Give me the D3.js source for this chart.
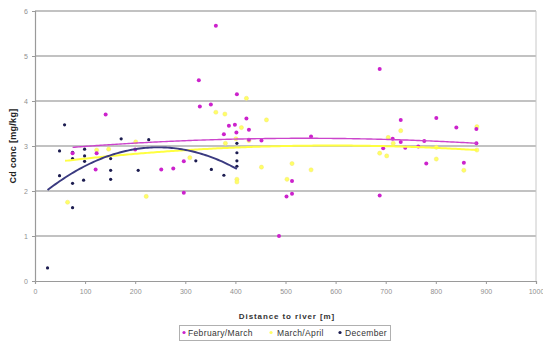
<!DOCTYPE html>
<html>
<head>
<meta charset="utf-8">
<script src="https://cdn.jsdelivr.net/npm/d3@7"></script>
<style>
  html, body { margin: 0; padding: 0; background: #ffffff; }
  svg { display: block; font-family: Arial, "Liberation Sans", sans-serif; }
</style>
</head>
<body>
<svg id="chart" width="543" height="342"></svg>
<script>
// Cd concentration [mg/kg] versus distance to the river [m], three sampling campaigns
const febMarch = [
  [75,2.84],[123,2.84],[121,2.48],[141,3.70],[200,2.92],[252,2.48],[276,2.50],[297,2.66],
  [297,1.96],[327,4.46],[329,3.88],[351,3.92],[361,5.67],[377,3.26],[387,3.45],[399,3.47],
  [403,4.15],[402,3.30],[422,3.61],[427,3.36],[427,3.14],[452,3.12],[487,1.00],[502,1.88],
  [513,1.94],[513,2.22],[551,3.21],[688,4.71],[688,1.90],[695,2.95],[714,3.16],[730,3.58],
  [730,3.09],[739,2.96],[765,2.99],[777,3.11],[781,2.61],[801,3.62],[841,3.41],[856,2.63],
  [881,3.38],[881,3.06]
];
const marchApril = [
  [65,1.75],[123,2.91],[147,2.93],[201,3.09],[222,1.88],[309,2.74],[361,3.75],[379,3.71],
  [380,3.06],[401,3.16],[403,2.26],[403,2.20],[412,3.41],[422,4.06],[427,3.12],[452,2.53],
  [462,3.58],[503,2.26],[513,2.61],[551,2.47],[688,2.84],[702,2.78],[705,3.19],[715,3.06],
  [730,3.34],[801,2.97],[801,2.71],[856,2.46],[882,3.43],[882,2.91]
];
const december = [
  [25,0.29],[49,2.89],[49,2.34],[59,3.47],[75,2.86],[75,2.72],[75,2.17],[75,1.63],
  [97,2.24],[99,2.93],[99,2.78],[99,2.66],[151,2.72],[151,2.46],[151,2.26],[172,3.16],
  [206,2.46],[227,3.14],[321,2.67],[352,2.48],[377,2.35],[403,3.06],[403,2.85],[403,2.67],
  [403,2.55]
];

// 2nd-order polynomial trendlines: [c0, c1, c2] and the distance range they span
const trendFebMarch   = { coef: [2.8995, 1.011e-3, -9.4e-7],   from: 75, to: 882 };
const trendMarchApril = { coef: [2.589, 1.4214e-3, -1.199e-6], from: 60, to: 882 };
const trendDecember   = { coef: [1.793, 9.576e-3, -1.947e-5],  from: 25, to: 403 };

const xTicks = [0,100,200,300,400,500,600,700,800,900,1000];
const yTicks = [0,1,2,3,4,5,6];
const seriesNames = ["February/March", "March/April", "December"];

const colors = {
  feb: "#cc22cc",
  mar: "#ffff66",
  dec: "#1c1c50",
  trendFeb: "#cc44cc",
  trendMar: "#ffff40",
  trendDec: "#3a3a80"
};

const svg = d3.select("#chart");
const x = d3.scaleLinear().domain([0, 1000]).range([35, 536]);
const y = d3.scaleLinear().domain([0, 6]).range([281, 11]);

// horizontal gridlines
svg.append("g")
  .selectAll("line")
  .data(yTicks.filter(d => d > 0))
  .join("line")
  .attr("x1", x(0)).attr("x2", x(1000))
  .attr("y1", d => y(d)).attr("y2", d => y(d))
  .attr("stroke", "#c2c2c2")
  .attr("stroke-width", 2);

// right border of the plot area
svg.append("line")
  .attr("x1", x(1000)).attr("x2", x(1000))
  .attr("y1", y(6)).attr("y2", y(0))
  .attr("stroke", "#c8c8c8").attr("stroke-width", 1);

// axes
const yAxis = svg.append("g")
  .attr("transform", `translate(${x(0)},0)`)
  .call(d3.axisLeft(y).tickValues(yTicks).tickFormat(d3.format("d")).tickSize(3).tickPadding(4));
const xAxis = svg.append("g")
  .attr("transform", `translate(0,${y(0)})`)
  .call(d3.axisBottom(x).tickValues(xTicks).tickFormat(d3.format("d")).tickSize(3).tickPadding(5));
[yAxis, xAxis].forEach(g => {
  g.select(".domain").attr("stroke", "#9a9a9a").attr("stroke-width", 1.2);
  g.selectAll(".tick line").attr("stroke", "#9a9a9a");
  g.selectAll(".tick text").attr("fill", "#909090").style("font-size", "7px");
});

// trendline sampling
function trendPoints(t) {
  const f = d => t.coef[0] + t.coef[1] * d + t.coef[2] * d * d;
  const pts = [];
  for (let d = t.from; d < t.to; d += 4) pts.push([d, f(d)]);
  pts.push([t.to, f(t.to)]);
  return pts;
}
const line = d3.line().x(d => x(d[0])).y(d => y(d[1]));

// points
function drawPoints(data, fill, r, stroke) {
  svg.append("g")
    .selectAll("circle")
    .data(data)
    .join("circle")
    .attr("cx", d => x(d[0]))
    .attr("cy", d => y(d[1]))
    .attr("r", r)
    .attr("fill", fill)
    .attr("stroke", stroke || "none")
    .attr("stroke-width", 0.4);
}
drawPoints(marchApril, colors.mar, 2.1, "#f0e070");
drawPoints(december, colors.dec, 1.6);
drawPoints(febMarch, colors.feb, 2.0);

svg.append("path").datum(trendPoints(trendMarchApril))
  .attr("d", line).attr("fill", "none")
  .attr("stroke", colors.trendMar).attr("stroke-width", 2);
svg.append("path").datum(trendPoints(trendFebMarch))
  .attr("d", line).attr("fill", "none")
  .attr("stroke", colors.trendFeb).attr("stroke-width", 1.4);
svg.append("path").datum(trendPoints(trendDecember))
  .attr("d", line).attr("fill", "none")
  .attr("stroke", colors.trendDec).attr("stroke-width", 1.9);

// axis titles
svg.append("text")
  .attr("x", 287).attr("y", 319)
  .attr("text-anchor", "middle")
  .attr("fill", "#333333")
  .style("font-size", "8px").style("font-weight", "bold").style("letter-spacing", "0.9px")
  .text("Distance to river [m]");
svg.append("text")
  .attr("transform", `translate(16,${(y(0) + y(6)) / 2}) rotate(-90)`)
  .attr("text-anchor", "middle")
  .attr("fill", "#222222")
  .style("font-size", "9px").style("font-weight", "bold").style("letter-spacing", "0.3px")
  .text("Cd conc [mg/kg]");

// legend
const legend = svg.append("g");
legend.append("rect")
  .attr("x", 179.5).attr("y", 325.5).attr("width", 211).attr("height", 15)
  .attr("fill", "#ffffff").attr("stroke", "#b0b0b0").attr("stroke-width", 1);
const legendItems = [
  { name: seriesNames[0], color: colors.feb, mx: 184, tx: 188 },
  { name: seriesNames[1], color: colors.mar, mx: 271, tx: 277 },
  { name: seriesNames[2], color: colors.dec, mx: 340, tx: 345 }
];
legendItems.forEach(it => {
  legend.append("circle").attr("cx", it.mx).attr("cy", 332.5).attr("r", 1.6).attr("fill", it.color);
  legend.append("text")
    .attr("x", it.tx).attr("y", 335.5)
    .attr("fill", "#333333")
    .style("font-size", "8.5px").style("letter-spacing", "0.35px")
    .text(it.name);
});
</script>
</body>
</html>
